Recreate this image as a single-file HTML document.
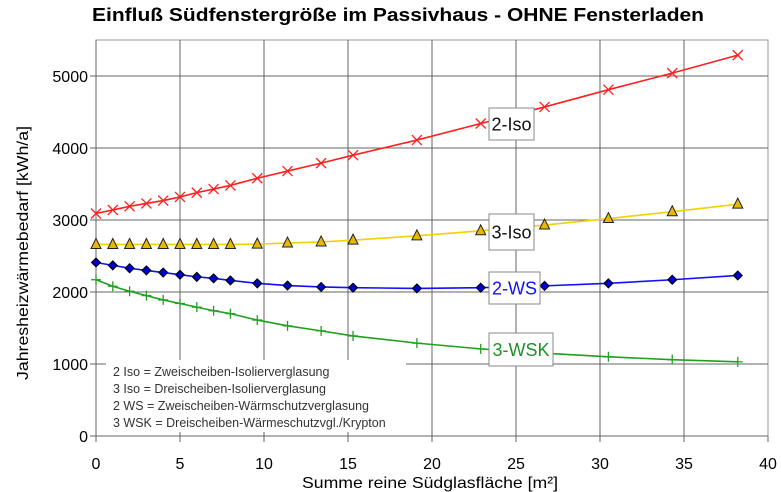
<!DOCTYPE html>
<html><head><meta charset="utf-8"><style>
html,body{margin:0;padding:0;background:#fff;}
svg{display:block;font-family:"Liberation Sans",Arial,sans-serif;}
</style></head><body>
<svg id="c" width="781" height="492" viewBox="0 0 781 492" xmlns="http://www.w3.org/2000/svg">
<rect width="781" height="492" fill="#fff"/>
<text x="92" y="21" font-size="18" font-weight="bold" textLength="612" lengthAdjust="spacingAndGlyphs">Einfluß Südfenstergröße im Passivhaus - OHNE Fensterladen</text>
<g id="grid"></g>
<g id="series"></g>
<g font-size="16" fill="#000">
<text x="88" y="82" text-anchor="end">5000</text>
<text x="88" y="154" text-anchor="end">4000</text>
<text x="88" y="226" text-anchor="end">3000</text>
<text x="88" y="298" text-anchor="end">2000</text>
<text x="88" y="370" text-anchor="end">1000</text>
<text x="88" y="442" text-anchor="end">0</text>
<text x="96" y="469" text-anchor="middle">0</text>
<text x="180" y="469" text-anchor="middle">5</text>
<text x="264" y="469" text-anchor="middle">10</text>
<text x="348" y="469" text-anchor="middle">15</text>
<text x="432" y="469" text-anchor="middle">20</text>
<text x="516" y="469" text-anchor="middle">25</text>
<text x="600" y="469" text-anchor="middle">30</text>
<text x="684" y="469" text-anchor="middle">35</text>
<text x="768" y="469" text-anchor="middle">40</text>
<text x="430" y="488" text-anchor="middle" textLength="256" lengthAdjust="spacingAndGlyphs">Summe reine Südglasfläche [m²]</text>
<text transform="translate(28,253) rotate(-90)" text-anchor="middle" textLength="254" lengthAdjust="spacingAndGlyphs">Jahresheizwärmebedarf  [kWh/a]</text>
</g>
</svg>
<script>
var NS="http://www.w3.org/2000/svg";
function el(p,t,a,txt){var e=document.createElementNS(NS,t);for(var k in a)e.setAttribute(k,a[k]);if(txt)e.textContent=txt;p.appendChild(e);return e;}
var X=function(v){return 96+16.8*v},Y=function(v){return 436-0.072*v};
var g=document.getElementById('grid');
el(g,'rect',{x:96,y:40,width:672,height:396,fill:'#fff',stroke:'#999','stroke-width':1});
for(var i=1;i<8;i++)el(g,'line',{x1:X(i*5),x2:X(i*5),y1:40,y2:436,stroke:'#666','stroke-width':1});
for(var j=1;j<6;j++)el(g,'line',{x1:96,x2:768,y1:Y(j*1000),y2:Y(j*1000),stroke:'#666','stroke-width':1});
el(g,'line',{x1:96,x2:96,y1:40,y2:436,stroke:'#666'});
el(g,'line',{x1:96,x2:768,y1:436,y2:436,stroke:'#666'});
for(var i=0;i<=8;i++)el(g,'line',{x1:X(i*5),x2:X(i*5),y1:436,y2:442,stroke:'#666'});
for(var j=0;j<=5;j++)el(g,'line',{x1:90,x2:96,y1:Y(j*1000),y2:Y(j*1000),stroke:'#666'});
var xs=[0,1,2,3,4,5,6,7,8,9.6,11.4,13.4,15.3,19.1,22.9,26.7,30.5,34.3,38.2];
var red=[3090,3140,3190,3230,3270,3320,3380,3430,3480,3580,3680,3790,3900,4110,4340,4570,4810,5040,5290];
var yel=[2660,2660,2660,2660,2660,2660,2660,2660,2660,2665,2680,2695,2720,2780,2850,2930,3020,3115,3220];
var blu=[2410,2370,2330,2300,2270,2240,2210,2190,2160,2120,2090,2070,2060,2050,2060,2085,2120,2170,2230];
var grn=[2170,2080,2010,1950,1890,1840,1790,1740,1700,1610,1530,1460,1390,1290,1210,1150,1100,1060,1030];
var s=document.getElementById('series');
function line(d,c){el(s,'polyline',{points:d.map(function(v,i){return X(xs[i])+','+Y(v)}).join(' '),fill:'none',stroke:c,'stroke-width':1.6});}
line(red,'#ff2020');line(yel,'#f5d000');line(blu,'#1010ff');line(grn,'#20a020');
red.forEach(function(v,i){var x=X(xs[i]),y=Y(v);el(s,'path',{d:'M'+(x-5)+','+(y-5)+'L'+(x+5)+','+(y+5)+'M'+(x-5)+','+(y+5)+'L'+(x+5)+','+(y-5),stroke:'#ff2020','stroke-width':1.3,fill:'none'});});
yel.forEach(function(v,i){var x=X(xs[i]),y=Y(v);el(s,'path',{d:'M'+x+','+(y-6)+'L'+(x+5)+','+(y+4)+'L'+(x-5)+','+(y+4)+'Z',fill:'#e8b800',stroke:'#222','stroke-width':1});});
blu.forEach(function(v,i){var x=X(xs[i]),y=Y(v);el(s,'path',{d:'M'+x+','+(y-4.5)+'L'+(x+4.5)+','+y+'L'+x+','+(y+4.5)+'L'+(x-4.5)+','+y+'Z',fill:'#0000cc',stroke:'#000','stroke-width':1});});
grn.forEach(function(v,i){var x=X(xs[i]),y=Y(v);el(s,'path',{d:'M'+(x-5)+','+y+'L'+(x+5)+','+y+'M'+x+','+(y-5)+'L'+x+','+(y+5),stroke:'#20a020','stroke-width':1.3});});
el(s,'rect',{x:106,y:360,width:300,height:72,fill:'#fff'});
var lt=['2 Iso = Zweischeiben-Isolierverglasung','3 Iso = Dreischeiben-Isolierverglasung','2 WS = Zweischeiben-Wärmschutzverglasung','3 WSK = Dreischeiben-Wärmeschutzvgl./Krypton'];
lt.forEach(function(t,i){el(s,'text',{x:113,y:376+i*17,'font-size':12.5,fill:'#333'},t);});
function lab(x,y,w,h,t,c){el(s,'rect',{x:x,y:y,width:w,height:h,fill:'#fff',stroke:'#888'});el(s,'text',{x:x+w/2,y:y+h/2+6.5,'font-size':18,'text-anchor':'middle',fill:c},t);}
lab(489,108,45,32,'2-Iso','#111');
lab(489,214,45,36,'3-Iso','#111');
lab(489,272,51,32,'2-WS','#1010ff');
lab(489,333,64,33,'3-WSK','#20902a');
</script>
</body></html>
